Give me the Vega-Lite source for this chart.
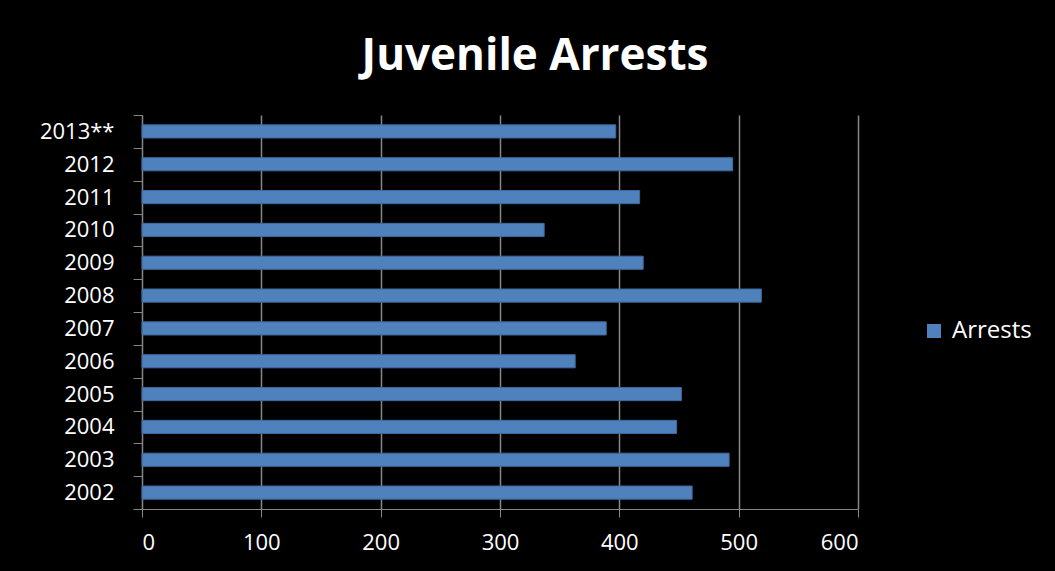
{
  "$schema": "https://vega.github.io/schema/vega-lite/v6.json",
  "width": 716,
  "height": 394,
  "autosize": {"type": "none"},
  "padding": {"left": 142, "top": 115, "right": 197, "bottom": 62},
  "background": "#000000",
  "title": {
    "text": "Juvenile Arrests",
    "font": "Open Sans",
    "fontSize": 44,
    "fontWeight": "bold",
    "color": "#FFFFFF",
    "anchor": "middle",
    "dx": 35,
    "offset": 25
  },
  "data": {
    "values": [
      {"year": "2013**", "arrests": 397, "series": "Arrests"},
      {"year": "2012", "arrests": 495, "series": "Arrests"},
      {"year": "2011", "arrests": 417, "series": "Arrests"},
      {"year": "2010", "arrests": 337, "series": "Arrests"},
      {"year": "2009", "arrests": 420, "series": "Arrests"},
      {"year": "2008", "arrests": 519, "series": "Arrests"},
      {"year": "2007", "arrests": 389, "series": "Arrests"},
      {"year": "2006", "arrests": 363, "series": "Arrests"},
      {"year": "2005", "arrests": 452, "series": "Arrests"},
      {"year": "2004", "arrests": 448, "series": "Arrests"},
      {"year": "2003", "arrests": 492, "series": "Arrests"},
      {"year": "2002", "arrests": 461, "series": "Arrests"}
    ]
  },
  "mark": {"type": "bar", "height": {"band": 0.4}, "stroke": "#3F6A9E", "strokeWidth": 1},
  "encoding": {
    "y": {
      "field": "year",
      "type": "nominal",
      "sort": null,
      "scale": {"paddingInner": 0, "paddingOuter": 0},
      "axis": {
        "title": null,
        "tickBand": "extent",
        "grid": false,
        "domainColor": "#868686",
        "tickColor": "#868686",
        "tickSize": 9,
        "labelPadding": 19,
        "labelFont": "Open Sans",
        "labelFontSize": 22,
        "labelColor": "#FFFFFF"
      }
    },
    "x": {
      "field": "arrests",
      "type": "quantitative",
      "scale": {"domain": [0, 600], "nice": false},
      "axis": {
        "title": null,
        "values": [0, 100, 200, 300, 400, 500, 600],
        "grid": true,
        "gridColor": "#868686",
        "gridWidth": 1.5,
        "domainColor": "#868686",
        "tickColor": "#868686",
        "tickSize": 8,
        "labelPadding": 15,
        "labelFont": "Open Sans",
        "labelFontSize": 22,
        "labelColor": "#FFFFFF"
      }
    },
    "color": {
      "field": "series",
      "type": "nominal",
      "scale": {"range": ["#4F81BD"]},
      "legend": {
        "title": null,
        "orient": "none",
        "legendX": 780,
        "legendY": 204,
        "symbolType": "square",
        "symbolSize": 196,
        "symbolStrokeWidth": 0,
        "labelFont": "Open Sans",
        "labelFontSize": 24,
        "labelColor": "#FFFFFF",
        "labelOffset": 6
      }
    }
  },
  "config": {"view": {"stroke": null}}
}
